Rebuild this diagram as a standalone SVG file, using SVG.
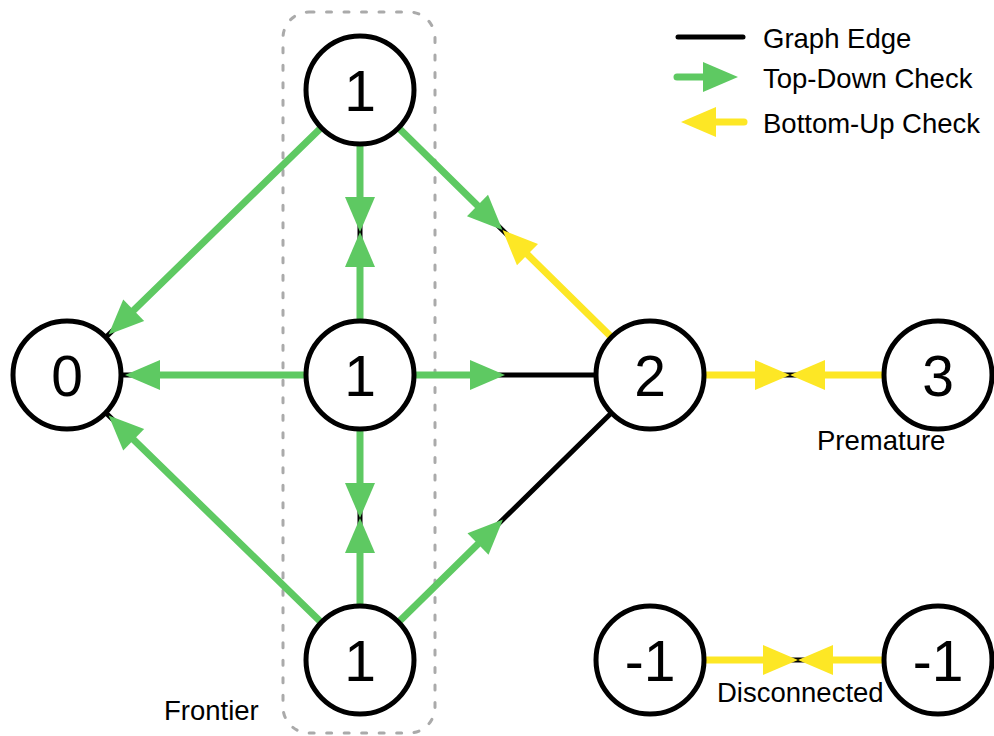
<svg xmlns="http://www.w3.org/2000/svg" width="994" height="736" viewBox="0 0 994 736">
<style>
.edge{stroke:#000;stroke-width:5;stroke-linecap:round;fill:none}
.g{stroke:#5ec962;stroke-width:7;stroke-linecap:round;fill:none}
.y{stroke:#fde725;stroke-width:7;stroke-linecap:round;fill:none}
.node circle{fill:#fff;stroke:#000;stroke-width:5}
.node text{font-family:"Liberation Sans",Arial,sans-serif;font-size:57px;text-anchor:middle;fill:#000}
.lbl{font-family:"Liberation Sans",Arial,sans-serif;font-size:27.5px;fill:#000}
.frontier{fill:none;stroke:#aaa;stroke-width:3;stroke-dasharray:5 12.5;stroke-linecap:round}
</style>
<defs>
<marker id="ag" markerUnits="userSpaceOnUse" markerWidth="40" markerHeight="32" refX="0" refY="15" orient="auto" overflow="visible"><path d="M0,0 L35,15 L0,30 Z" fill="#5ec962"/></marker>
<marker id="ay" markerUnits="userSpaceOnUse" markerWidth="40" markerHeight="32" refX="0" refY="15" orient="auto" overflow="visible"><path d="M0,0 L35,15 L0,30 Z" fill="#fde725"/></marker>
</defs>
<rect class="frontier" x="283" y="12" width="152" height="721" rx="26"/>
<g id="connectors">
<line class="edge" x1="360" y1="90" x2="67" y2="375"/>
<line class="edge" x1="360" y1="375" x2="67" y2="375"/>
<line class="edge" x1="360" y1="660" x2="67" y2="375"/>
<line class="edge" x1="360" y1="90" x2="360" y2="660"/>
<line class="edge" x1="360" y1="90" x2="650" y2="375"/>
<line class="edge" x1="360" y1="375" x2="650" y2="375"/>
<line class="edge" x1="360" y1="660" x2="650" y2="375"/>
<line class="edge" x1="650" y1="375" x2="938" y2="375"/>
<line class="edge" x1="650" y1="660" x2="938" y2="660"/>
<line class="g" x1="320.6" y1="128.3" x2="133.7" y2="310.2" marker-end="url(#ag)"/>
<line class="g" x1="304" y1="375" x2="160" y2="375" marker-end="url(#ag)"/>
<line class="g" x1="320.6" y1="621.7" x2="133.7" y2="439.8" marker-end="url(#ag)"/>
<line class="g" x1="360" y1="146" x2="360" y2="197" marker-end="url(#ag)"/>
<line class="g" x1="360" y1="320" x2="360" y2="267" marker-end="url(#ag)"/>
<line class="g" x1="360" y1="430" x2="360" y2="483" marker-end="url(#ag)"/>
<line class="g" x1="360" y1="604" x2="360" y2="553" marker-end="url(#ag)"/>
<line class="g" x1="399.2" y1="128.5" x2="477.5" y2="205.5" marker-end="url(#ag)"/>
<line class="y" x1="610.8" y1="336.5" x2="527.5" y2="254.6" marker-end="url(#ay)"/>
<line class="g" x1="415" y1="375" x2="470" y2="375" marker-end="url(#ag)"/>
<line class="g" x1="399.2" y1="621.5" x2="478" y2="544" marker-end="url(#ag)"/>
<line class="y" x1="706" y1="375" x2="755" y2="375" marker-end="url(#ay)"/>
<line class="y" x1="883" y1="375" x2="825" y2="375" marker-end="url(#ay)"/>
<line class="y" x1="706" y1="660" x2="763" y2="660" marker-end="url(#ay)"/>
<line class="y" x1="883" y1="660" x2="833" y2="660" marker-end="url(#ay)"/>
</g>
<g id="n_top" class="node"><circle cx="360" cy="90" r="54"/><text x="360" y="111">1</text></g>
<g id="n_mid" class="node"><circle cx="360" cy="375" r="54"/><text x="360" y="396">1</text></g>
<g id="n_bot" class="node"><circle cx="360" cy="660" r="54"/><text x="360" y="681">1</text></g>
<g id="n_0" class="node"><circle cx="67" cy="375" r="54"/><text x="67" y="396">0</text></g>
<g id="n_2" class="node"><circle cx="650" cy="375" r="54"/><text x="650" y="396">2</text></g>
<g id="n_3" class="node"><circle cx="938" cy="375" r="54"/><text x="938" y="396">3</text></g>
<g id="n_m1a" class="node"><circle cx="650" cy="660" r="54"/><text x="650" y="681">-1</text></g>
<g id="n_m1b" class="node"><circle cx="938" cy="660" r="54"/><text x="938" y="681">-1</text></g>
<text class="lbl" x="817" y="450">Premature</text>
<text class="lbl" x="717" y="702">Disconnected</text>
<text class="lbl" x="164" y="720">Frontier</text>
<g id="legend">
<line class="edge" x1="678" y1="37" x2="743" y2="37"/>
<line class="g" x1="677" y1="77" x2="703" y2="77" marker-end="url(#ag)"/>
<line class="y" x1="744" y1="122" x2="716" y2="122" marker-end="url(#ay)"/>
<text class="lbl" x="763" y="48">Graph Edge</text>
<text class="lbl" x="763" y="88">Top-Down Check</text>
<text class="lbl" x="763" y="133">Bottom-Up Check</text>
</g>
</svg>
